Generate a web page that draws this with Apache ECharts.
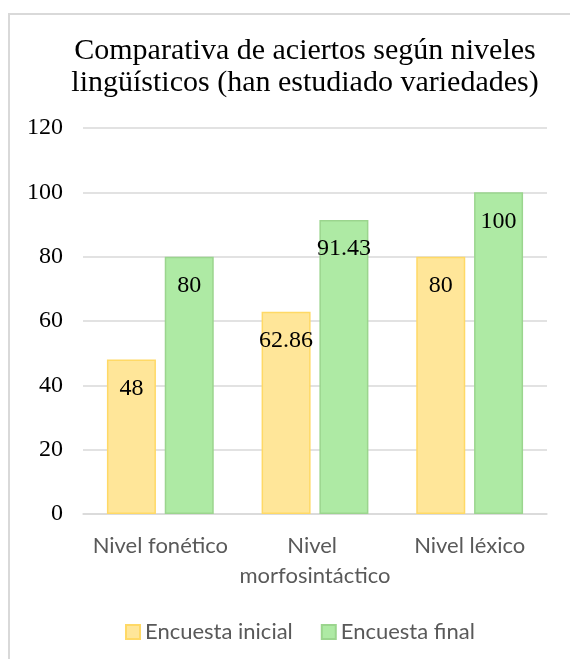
<!DOCTYPE html>
<html>
<head>
<meta charset="utf-8">
<script src="https://cdn.jsdelivr.net/npm/echarts@6/dist/echarts.min.js"></script>
<style>
  html, body { margin: 0; padding: 0; background: #ffffff; }
  #chart { width: 570px; height: 659px; }
</style>
</head>
<body>
<div id="chart"></div>
<script>
// Categories (linguistic levels) and survey results
const categories = ['Nivel fonético', 'Nivel morfosintáctico', 'Nivel léxico'];
const encuestaInicial = [48, 62.86, 80];
const encuestaFinal = [80, 91.43, 100];
const yTicks = { min: 0, max: 120, interval: 20 };

const serif = '"Liberation Serif", "Times New Roman", serif';
const sans = 'Lato, "Liberation Sans", sans-serif';

const chart = echarts.init(document.getElementById('chart'), null, { renderer: 'canvas' });

const labelStyle = {
  show: true,
  position: 'insideTop',
  distance: 17,
  fontFamily: serif,
  fontSize: 24,
  color: '#000000',
  formatter: p => String(p.value)
};

chart.setOption({
  animation: false,
  backgroundColor: '#ffffff',
  graphic: [{
    type: 'rect',
    shape: { x: 9, y: 14, width: 800, height: 800 },
    style: { fill: 'none', stroke: '#d9d9d9', lineWidth: 2 },
    silent: true,
    z: 0
  }],
  title: {
    text: 'Comparativa de aciertos según niveles\nlingüísticos (han estudiado variedades)',
    left: 300,
    top: 30,
    textAlign: 'center',
    textStyle: {
      fontFamily: serif,
      fontSize: 30,
      fontWeight: 'normal',
      color: '#000000',
      lineHeight: 32
    }
  },
  legend: {
    data: ['Encuesta inicial', 'Encuesta final'],
    left: 120,
    top: 616,
    itemWidth: 14,
    itemHeight: 14,
    itemGap: 28,
    icon: 'rect',
    textStyle: { fontFamily: sans, fontSize: 22, color: '#595959' }
  },
  grid: { left: 83, right: 23, top: 128, height: 386, containLabel: false },
  xAxis: {
    type: 'category',
    data: categories,
    axisLine: { lineStyle: { color: '#d9d9d9', width: 1.5 } },
    axisTick: { show: false },
    axisLabel: {
      interval: 0,
      margin: 17,
      fontFamily: sans,
      fontSize: 22,
      color: '#595959',
      lineHeight: 30,
      width: 170,
      overflow: 'break'
    }
  },
  yAxis: {
    type: 'value',
    min: yTicks.min,
    max: yTicks.max,
    interval: yTicks.interval,
    axisLine: { show: false },
    axisTick: { show: false },
    splitLine: { lineStyle: { color: '#d9d9d9', width: 1.5 } },
    axisLabel: { margin: 20, fontFamily: serif, fontSize: 24, color: '#000000' }
  },
  series: [
    {
      name: 'Encuesta inicial',
      type: 'bar',
      data: encuestaInicial,
      barWidth: 49,
      barGap: '18%',
      itemStyle: { color: '#FFE699', borderColor: '#FFD966', borderWidth: 1.5 },
      label: labelStyle
    },
    {
      name: 'Encuesta final',
      type: 'bar',
      data: encuestaFinal,
      barWidth: 49,
      itemStyle: { color: '#AEEAA4', borderColor: '#9BD58E', borderWidth: 1.5 },
      label: labelStyle
    }
  ]
});
</script>
</body>
</html>
